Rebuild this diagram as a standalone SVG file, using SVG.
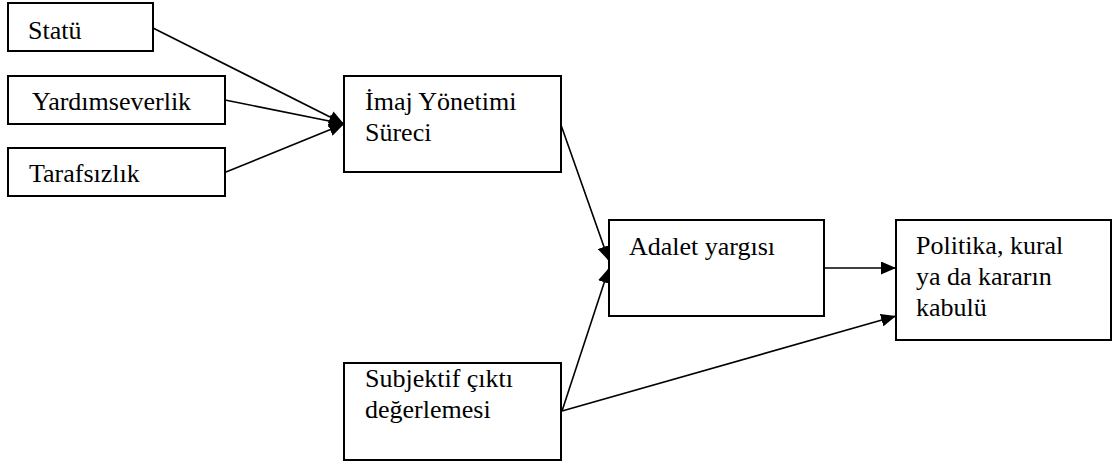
<svg xmlns="http://www.w3.org/2000/svg" width="1115" height="464" viewBox="0 0 1115 464">
<style>
.box{fill:#fff;stroke:#000;stroke-width:2}
.edge{stroke:#000;stroke-width:1.6;fill:none;marker-end:url(#ah)}
.lbl{font-family:"Liberation Serif",serif;font-size:26px;fill:#000}
</style>
<defs>
<marker id="ah" markerUnits="userSpaceOnUse" markerWidth="15" markerHeight="13" refX="15" refY="6.5" orient="auto">
<path d="M0,0 L15,6.5 L0,13 z" fill="#000"/>
</marker>
</defs>
<rect width="1115" height="464" fill="#fff"/>
<g id="connectors">
<line class="edge" x1="153" y1="28" x2="344" y2="124"/>
<line class="edge" x1="225" y1="100" x2="344" y2="124"/>
<line class="edge" x1="226" y1="172" x2="344" y2="124"/>
<line class="edge" x1="561" y1="125" x2="609" y2="261"/>
<line class="edge" x1="562" y1="411" x2="609" y2="268"/>
<line class="edge" x1="824" y1="268" x2="896" y2="268"/>
<line class="edge" x1="562" y1="411" x2="896" y2="316"/>
</g>
<g id="statu">
<rect class="box" x="8" y="3" width="145" height="48"/>
<text class="lbl" x="28" y="39">Statü</text>
</g>
<g id="yardimseverlik">
<rect class="box" x="8" y="76" width="217" height="48"/>
<text class="lbl" x="32" y="110">Yardımseverlik</text>
</g>
<g id="tarafsizlik">
<rect class="box" x="8" y="148" width="217" height="48"/>
<text class="lbl" x="29" y="182">Tarafsızlık</text>
</g>
<g id="imaj">
<rect class="box" x="344" y="76" width="217" height="96"/>
<text class="lbl" x="365" y="110">İmaj Yönetimi</text>
<text class="lbl" x="365" y="141">Süreci</text>
</g>
<g id="adalet">
<rect class="box" x="609" y="220" width="215" height="96"/>
<text class="lbl" x="629" y="255">Adalet yargısı</text>
</g>
<g id="politika">
<rect class="box" x="896" y="220" width="215" height="120"/>
<text class="lbl" x="916" y="254">Politika, kural</text>
<text class="lbl" x="916" y="285">ya da kararın</text>
<text class="lbl" x="916" y="316">kabulü</text>
</g>
<g id="subjektif">
<rect class="box" x="344" y="363" width="217" height="97"/>
<text class="lbl" x="365" y="387">Subjektif çıktı</text>
<text class="lbl" x="365" y="418">değerlemesi</text>
</g>
</svg>
